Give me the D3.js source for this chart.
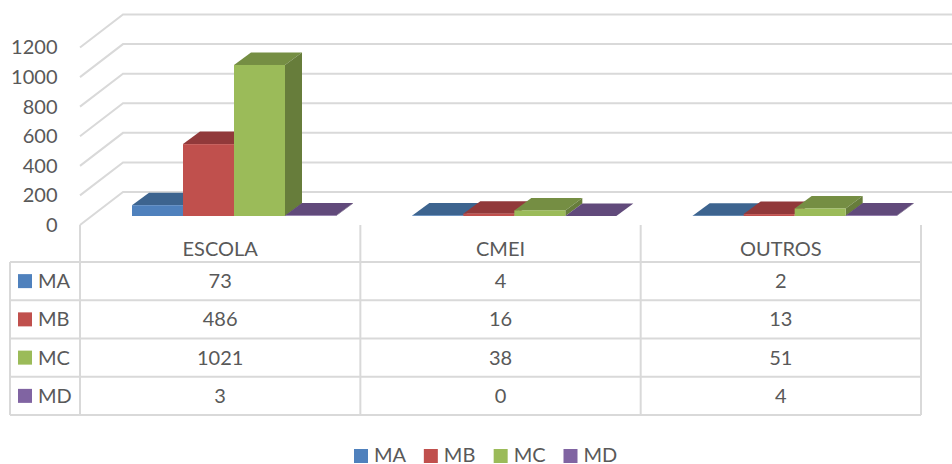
<!DOCTYPE html>
<html>
<head>
<meta charset="utf-8">
<script src="https://cdn.jsdelivr.net/npm/d3@7/dist/d3.min.js"></script>
<style>
    html, body { margin: 0; padding: 0; background: #fff; }
    text { font-family: Lato, "Open Sans", sans-serif; font-size: 20px; fill: #595959; }
</style>
</head>
<body>
<script>
const categories = ["ESCOLA", "CMEI", "OUTROS"];
const seriesNames = ["MA", "MB", "MC", "MD"];
const ma = [73, 4, 2];
const mb = [486, 16, 13];
const mc = [1021, 38, 51];
const md = [3, 0, 4];
const yTicks = [0, 200, 400, 600, 800, 1000, 1200];

const seriesValues = [ma, mb, mc, md];
const frontColors = ["#4f81bd", "#c0504d", "#9bbb59", "#8064a2"];
const topColors = ["#3d648f", "#91393a", "#758e43", "#614a7b"];
const sideColors = ["#34557a", "#7c3231", "#677d3b", "#533f69"];

const gridColor = "#d9d9d9";

// floor depth of the 3d box, and depth of one bar
const wallDx = 43, wallDy = -33;
const barDx = 17, barDy = -12.5;
const barFrontShift = -9;

const svg = d3.select("body").append("svg")
    .attr("width", 952)
    .attr("height", 464)
    .style("display", "block");

const x0 = d3.scaleBand().domain(categories).range([80, 921]);
const x1 = d3.scaleBand().domain(seriesNames).range([52, 256]);
const y = d3.scaleLinear().domain([0, 1200]).range([225, 47.5]);

const rowY = d3.scaleBand().domain(seriesNames).range([262, 415]);

function poly(points) {
    return d3.line()(points) + "Z";
}

//walls
const grid = svg.append("g")
    .attr("fill", "none")
    .attr("stroke", gridColor)
    .attr("stroke-width", 2);

grid.selectAll("path")
    .data(yTicks).enter().append("path")
    .attr("d", function(d) {
        return d3.line()([
            [80, y(d)],
            [80 + wallDx, y(d) + wallDy],
            [952, y(d) + wallDy]
        ]);
    });

//tick labels
const axis = svg.append("g")
    .attr("transform", "translate(57.5,0)")
    .call(d3.axisLeft(y).tickValues(yTicks).tickSize(0).tickPadding(0).tickFormat(d3.format("d")));
axis.select(".domain").remove();
axis.selectAll("text").style("font-family", null).style("font-size", "20px");
axis.attr("font-family", null).attr("font-size", null);

//bars
categories.forEach(function(cat, c) {
    seriesNames.forEach(function(name, s) {
        const left = x0(cat) + x1(name);
        const right = left + x1.bandwidth();
        const base = y(0) + barFrontShift;
        const top = y(seriesValues[s][c]) + barFrontShift;
        const g = svg.append("g").attr("class", "bar");

        g.append("path")
            .attr("fill", topColors[s])
            .attr("d", poly([[left, top], [right, top], [right + barDx, top + barDy], [left + barDx, top + barDy]]));
        g.append("path")
            .attr("fill", sideColors[s])
            .attr("d", poly([[right, top], [right + barDx, top + barDy], [right + barDx, base + barDy], [right, base]]));
        g.append("rect")
            .attr("x", left)
            .attr("y", top)
            .attr("width", x1.bandwidth())
            .attr("height", base - top)
            .attr("fill", frontColors[s]);
    });
});

//data table lines
const table = svg.append("g").attr("stroke", gridColor).attr("stroke-width", 2);

const colEdges = [80].concat(categories.map(function(d) { return x0(d) + x0.bandwidth(); }));
table.selectAll(".col")
    .data(colEdges).enter().append("line")
    .attr("class", "col")
    .attr("x1", function(d) { return d; })
    .attr("x2", function(d) { return d; })
    .attr("y1", y(0))
    .attr("y2", 415);

const rowEdges = [262].concat(seriesNames.map(function(d) { return rowY(d) + rowY.bandwidth(); }));
table.selectAll(".row")
    .data(rowEdges).enter().append("line")
    .attr("class", "row")
    .attr("x1", 10)
    .attr("x2", 921)
    .attr("y1", function(d) { return d; })
    .attr("y2", function(d) { return d; });

table.append("line")
    .attr("x1", 10).attr("x2", 10)
    .attr("y1", 262).attr("y2", 415);

//category header
svg.selectAll(".cat")
    .data(categories).enter().append("text")
    .attr("class", "cat")
    .attr("x", function(d) { return x0(d) + x0.bandwidth() / 2; })
    .attr("y", 249)
    .attr("dy", "0.35em")
    .attr("text-anchor", "middle")
    .text(function(d) { return d; });

//table rows
seriesNames.forEach(function(name, s) {
    const cy = rowY(name) + rowY.bandwidth() / 2;

    svg.append("rect")
        .attr("x", 18).attr("y", cy - 7)
        .attr("width", 14).attr("height", 14)
        .attr("fill", frontColors[s]);
    svg.append("text")
        .attr("x", 38).attr("y", cy)
        .attr("dy", "0.35em")
        .text(name);

    categories.forEach(function(cat, c) {
        svg.append("text")
            .attr("x", x0(cat) + x0.bandwidth() / 2)
            .attr("y", cy)
            .attr("dy", "0.35em")
            .attr("text-anchor", "middle")
            .text(seriesValues[s][c]);
    });
});

//legend
const legendX = d3.scalePoint().domain(seriesNames).range([354, 563.5]);
const legend = svg.selectAll(".legend")
    .data(seriesNames).enter().append("g")
    .attr("class", "legend")
    .attr("transform", function(d) { return "translate(" + legendX(d) + ",449)"; });

legend.append("rect")
    .attr("width", 14)
    .attr("height", 14)
    .attr("fill", function(d, i) { return frontColors[i]; });

legend.append("text")
    .attr("x", 20)
    .attr("y", 6)
    .attr("dy", "0.35em")
    .text(function(d) { return d; });
</script>
</body>
</html>
